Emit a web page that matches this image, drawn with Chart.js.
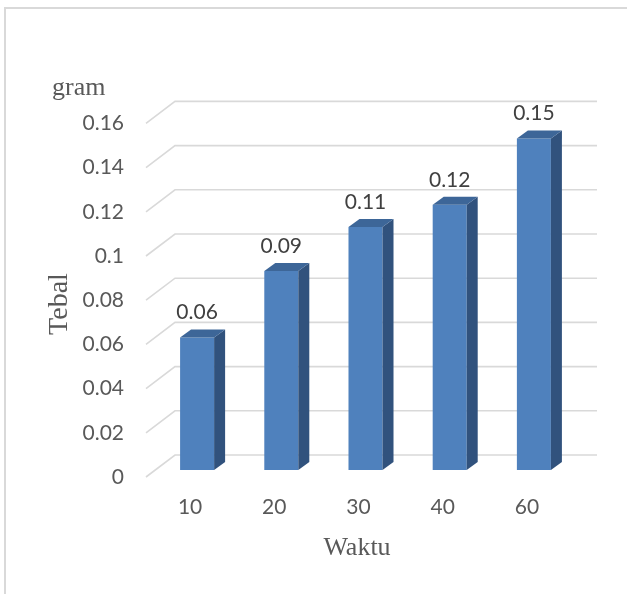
<!DOCTYPE html>
<html>
<head>
<meta charset="utf-8">
<script src="https://cdn.jsdelivr.net/npm/chart.js@4/dist/chart.umd.min.js"></script>
<style>
  html, body { margin: 0; padding: 0; background: #ffffff; }
  #c { display: block; }
</style>
</head>
<body>
<canvas id="c" width="627" height="594"></canvas>
<script>
// Thickness (Tebal, gram) measured at each time step (Waktu)
const categories = ['10', '20', '30', '40', '60'];
const tebal = [0.06, 0.09, 0.11, 0.12, 0.15];
const yMin = 0;
const yMax = 0.16;
const yStep = 0.02;

const FRONT = '#4f81bd';
const SIDE = '#31527d';
const TOP = '#3d6698';
const GRID = '#d9d9d9';
const TEXT = '#595959';
const SANS = 'Lato, "Open Sans", sans-serif';
const SERIF = '"Liberation Serif", "DejaVu Serif", serif';

// depth of the 3D floor and of each column
const floorDX = 29, floorFront = 7, floorBack = -15;
const colDX = 11, colDY = 8;

const fmt = v => String(+Number(v).toFixed(2));

const frame3d = {
  id: 'frame3d',
  beforeDraw(chart) {
    const ctx = chart.ctx;
    ctx.save();
    ctx.strokeStyle = '#d9d9d9';
    ctx.lineWidth = 2;
    ctx.beginPath();
    ctx.moveTo(5, chart.height);
    ctx.lineTo(5, 8);
    ctx.lineTo(chart.width, 8);
    ctx.stroke();
    ctx.restore();
  },
  beforeDatasetsDraw(chart) {
    const ctx = chart.ctx;
    const y = chart.scales.y;
    const area = chart.chartArea;
    const xFront = area.left - 9;
    const xBack = xFront + floorDX;
    const xRight = area.right + 21;
    ctx.save();
    ctx.strokeStyle = GRID;
    ctx.lineWidth = 1.6;
    y.ticks.forEach(t => {
      const py = y.getPixelForValue(t.value);
      ctx.beginPath();
      ctx.moveTo(xFront, py + floorFront);
      ctx.lineTo(xBack, py + floorBack);
      ctx.lineTo(xRight, py + floorBack);
      ctx.stroke();
    });
    ctx.restore();
  },
  afterDatasetsDraw(chart) {
    const ctx = chart.ctx;
    const meta = chart.getDatasetMeta(0);
    ctx.save();
    meta.data.forEach((bar, i) => {
      const p = bar.getProps(['x', 'y', 'base', 'width'], true);
      const l = p.x - p.width / 2, r = p.x + p.width / 2;
      // side face
      ctx.fillStyle = SIDE;
      ctx.beginPath();
      ctx.moveTo(r, p.base);
      ctx.lineTo(r + colDX, p.base - colDY);
      ctx.lineTo(r + colDX, p.y - colDY);
      ctx.lineTo(r, p.y);
      ctx.closePath();
      ctx.fill();
      // top face
      ctx.fillStyle = TOP;
      ctx.beginPath();
      ctx.moveTo(l, p.y);
      ctx.lineTo(l + colDX, p.y - colDY);
      ctx.lineTo(r + colDX, p.y - colDY);
      ctx.lineTo(r, p.y);
      ctx.closePath();
      ctx.fill();
      // value label
      ctx.fillStyle = '#404040';
      ctx.font = '21px ' + SANS;
      ctx.textAlign = 'center';
      ctx.textBaseline = 'middle';
      ctx.fillText(fmt(tebal[i]), p.x, p.y - 25);
    });

    // axis titles
    ctx.fillStyle = TEXT;
    ctx.font = '26px ' + SERIF;
    ctx.textAlign = 'left';
    ctx.textBaseline = 'alphabetic';
    ctx.fillText('gram', 52, 95);
    ctx.textAlign = 'center';
    ctx.fillText('Waktu', 357, 555);
    ctx.font = '28px ' + SERIF;
    ctx.translate(67, 304);
    ctx.rotate(-Math.PI / 2);
    ctx.fillText('Tebal', 0, 0);
    ctx.restore();
  }
};

new Chart(document.getElementById('c'), {
  type: 'bar',
  data: {
    labels: categories,
    datasets: [{
      label: 'Tebal',
      data: tebal,
      backgroundColor: FRONT,
      borderWidth: 0,
      categoryPercentage: 1,
      barPercentage: 0.404
    }]
  },
  options: {
    responsive: false,
    animation: false,
    devicePixelRatio: 1,
    layout: { padding: { left: 0, right: 51, top: 116.4, bottom: 0 } },
    plugins: {
      legend: { display: false },
      tooltip: { enabled: false }
    },
    scales: {
      x: {
        grid: { display: false, drawTicks: false },
        border: { display: false },
        ticks: {
          color: TEXT,
          font: { family: SANS, size: 21 },
          padding: 25,
          labelOffset: -7,
          maxRotation: 0
        },
        afterFit(scale) { scale.height = 124; }
      },
      y: {
        min: yMin,
        max: yMax,
        grid: { display: false, drawTicks: false },
        border: { display: false },
        ticks: {
          stepSize: yStep,
          color: TEXT,
          font: { family: SANS, size: 21 },
          padding: 31,
          labelOffset: 7,
          callback: v => fmt(v)
        },
        afterFit(scale) { scale.width = 155; }
      }
    }
  },
  plugins: [frame3d]
});
</script>
</body>
</html>
